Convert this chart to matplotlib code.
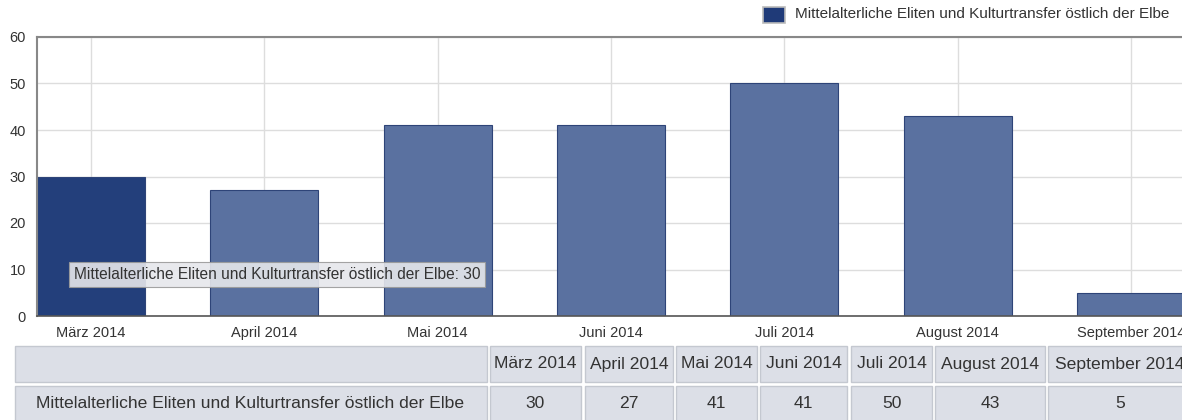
import numpy as np
import matplotlib.pyplot as plt
from matplotlib.patches import Rectangle
from matplotlib import font_manager

months = ["März 2014", "April 2014", "Mai 2014", "Juni 2014",
          "Juli 2014", "August 2014", "September 2014"]
values = [30, 27, 41, 41, 50, 43, 5]
series_name = "Mittelalterliche Eliten und Kulturtransfer östlich der Elbe"
highlight = 0

W, H = 1182, 420
names = {f.name for f in font_manager.fontManager.ttflist}
base = "Liberation Sans" if "Liberation Sans" in names else "DejaVu Sans"
narrow = "Liberation Sans Narrow" if "Liberation Sans Narrow" in names else base
plt.rcParams["font.family"] = [base, "DejaVu Sans"]


def frect(x0, y0, x1, y1):
    # pixel box (top-left origin) -> figure fraction rect
    return [x0 / W, 1 - y1 / H, (x1 - x0) / W, (y1 - y0) / H]


fig = plt.figure(figsize=(W / 100, H / 100), dpi=100)

# bar chart
step = 173.3
bw = 108 / step
ax = fig.add_axes(frect(37, 37, 37 + step * (len(values) - 1 + bw), 316))
x = np.arange(len(values))
colors = ["#233f7b" if i == highlight else "#5a71a0" for i in x]
ax.bar(x, values, width=bw, color=colors, edgecolor="#2e4478", linewidth=0.8, zorder=2)
ax.set_xlim(-bw / 2, len(values) - 1 + bw / 2)
ax.set_ylim(0, 60)
ax.set_yticks(range(0, 61, 10))
ax.set_xticks(x)
ax.set_xticklabels(months, fontsize=10.5, color="#333333")
for lab in ax.get_xticklabels():
    lab.set_verticalalignment("baseline")
ax.tick_params(axis="y", labelsize=10.5, labelcolor="#333333", length=0, pad=8)
ax.tick_params(axis="x", length=0, pad=15)
ax.grid(True, color="#dddddd", linewidth=1, zorder=0)
ax.set_axisbelow(True)
for s in ["left", "top"]:
    ax.spines[s].set_color("#888888")
    ax.spines[s].set_linewidth(1.5)
ax.spines["bottom"].set_color("#555555")
ax.spines["bottom"].set_linewidth(1.2)
ax.spines["right"].set_visible(False)

# tooltip on highlighted bar
ax.text(-0.098, 8.9, f"{series_name}: {values[highlight]}", fontsize=11.2, color="#333333",
        va="center", ha="left", zorder=5,
        bbox=dict(boxstyle="square,pad=0.3", fc="#e6e7eb", ec="#9a9a9a", lw=0.8, alpha=0.9))

# overlay in pixel coords for legend and table
ov2 = fig.add_axes([0, 0, 1, 1])
ov2.set_xlim(0, W)
ov2.set_ylim(H, 0)
ov2.axis("off")
ov2.patch.set_alpha(0)

# legend
ov2.add_patch(Rectangle((763, 7), 22, 16, fc="#1f3a78", ec="#bbbbbb", lw=1.2))
ov2.text(795, 14.5, series_name, fontsize=11, color="#333333", va="center", ha="left")

# data table
cell_fc, cell_ec = "#dcdfe7", "#c4c8d0"
col_edges = [(490, 581), (585, 673), (676, 757), (760, 847), (851, 932), (935, 1045), (1048, 1200)]
rows = [(346, 382), (386, 425)]
for (y0, y1) in rows:
    ov2.add_patch(Rectangle((15, y0), 472, y1 - y0, fc=cell_fc, ec=cell_ec, lw=1))
    for (x0, x1) in col_edges:
        ov2.add_patch(Rectangle((x0, y0), x1 - x0, y1 - y0, fc=cell_fc, ec=cell_ec, lw=1))
ov2.text(250, 404, series_name, fontsize=12.6, color="#333333", ha="center", va="center")
for (x0, x1), m, v in zip(col_edges, months, values):
    xc = (x0 + x1) / 2 if x1 < W else x0 + 72
    ov2.text(xc, 364, m, fontsize=12.6, color="#333333", ha="center", va="center",
             family=[narrow, "DejaVu Sans"])
    ov2.text(xc, 404, str(v), fontsize=12.6, color="#333333", ha="center", va="center")

fig.savefig("out.png", dpi=100)
